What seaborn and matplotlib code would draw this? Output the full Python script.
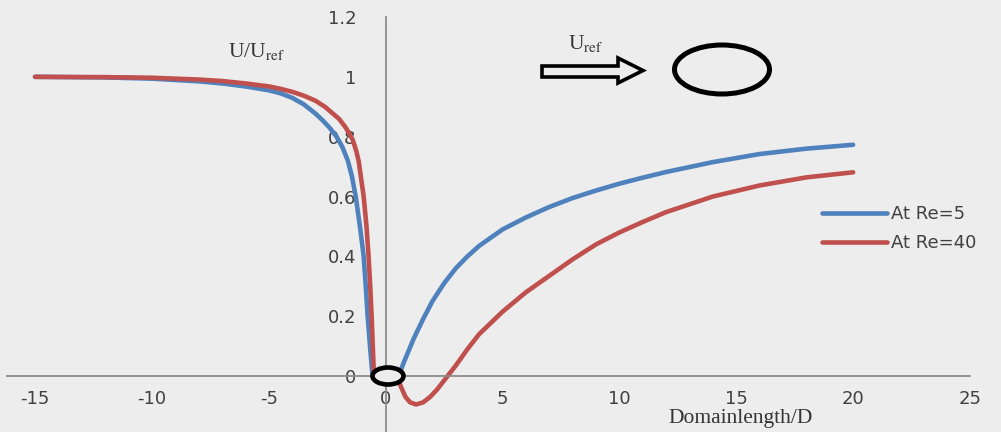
import numpy as np
import pandas as pd
import matplotlib
matplotlib.use("Agg")
import matplotlib.pyplot as plt
from matplotlib.patches import Ellipse, Polygon
import seaborn as sns

# ---- data ----
series_names = ["At Re=5", "At Re=40"]

re5_up_x = [-15, -12, -10, -8, -7, -6, -5, -4.5, -4, -3.5, -3, -2.7, -2.4, -2.1, -1.85, -1.62, -1.45, -1.28, -1.1, -0.94, -0.85, -0.77, -0.66, -0.56]
re5_up_y = [1.0, 0.998, 0.994, 0.985, 0.978, 0.968, 0.955, 0.945, 0.93, 0.908, 0.877, 0.855, 0.83, 0.8, 0.765, 0.72, 0.67, 0.6, 0.5, 0.4, 0.3, 0.2, 0.09, 0.0]
re5_dn_x = [0.55, 0.8, 1.2, 1.6, 2.0, 2.5, 3.0, 3.5, 4.0, 5.0, 6.0, 7.0, 8.0, 9.0, 10.0, 11.0, 12.0, 14.0, 16.0, 18.0, 20.0]
re5_dn_y = [0.0, 0.05, 0.125, 0.19, 0.25, 0.31, 0.36, 0.4, 0.435, 0.49, 0.53, 0.565, 0.595, 0.62, 0.643, 0.663, 0.682, 0.715, 0.742, 0.76, 0.773]

re40_up_x = [-15, -12, -10, -8, -7, -6, -5, -4.5, -4, -3.5, -3, -2.6, -2.3, -2.0, -1.75, -1.55, -1.41, -1.25, -1.15, -1.05, -0.94, -0.82, -0.73, -0.66, -0.6, -0.55, -0.5]
re40_up_y = [1.0, 0.999, 0.997, 0.991, 0.986, 0.978, 0.968, 0.96, 0.95, 0.937, 0.92, 0.9, 0.88, 0.86, 0.835, 0.81, 0.79, 0.75, 0.717, 0.66, 0.6, 0.5, 0.4, 0.3, 0.2, 0.1, 0.0]
re40_dn_x = [0.5, 0.65, 0.85, 1.05, 1.3, 1.6, 1.9, 2.2, 2.6, 3.0, 3.5, 4.0, 5.0, 6.0, 7.0, 8.0, 9.0, 10.0, 11.0, 12.0, 14.0, 16.0, 18.0, 20.0]
re40_dn_y = [0.0, -0.035, -0.07, -0.088, -0.095, -0.088, -0.07, -0.045, -0.005, 0.035, 0.09, 0.14, 0.215, 0.28, 0.335, 0.39, 0.44, 0.48, 0.515, 0.548, 0.6, 0.637, 0.664, 0.681]

x_ticks = [-15, -10, -5, 0, 5, 10, 15, 20, 25]
y_ticks = [0, 0.2, 0.4, 0.6, 0.8, 1.0, 1.2]
y_tick_labels = ["0", "0.2", "0.4", "0.6", "0.8", "1", "1.2"]
x_label = "Domainlength/D"
y_label = r"U/U$_{\mathrm{ref}}$"
uref_label = r"U$_{\mathrm{ref}}$"

colors = {"At Re=5": "#4F81BD", "At Re=40": "#C0504D"}

# ---- build table ----
frames = []
for name, seg, xs, ys in [
    ("At Re=5", "up", re5_up_x, re5_up_y),
    ("At Re=5", "down", re5_dn_x, re5_dn_y),
    ("At Re=40", "up", re40_up_x, re40_up_y),
    ("At Re=40", "down", re40_dn_x, re40_dn_y),
]:
    frames.append(pd.DataFrame({"x": xs, "y": ys, "series": name, "segment": seg}))
df = pd.concat(frames, ignore_index=True)

sns.set_style("white")
plt.rcParams["mathtext.fontset"] = "stix"
BG = "#ededed"
W, H = 1001, 432
fig = plt.figure(figsize=(W / 100, H / 100), dpi=100, facecolor=BG)
ax = fig.add_axes([7 / W, 0, 963 / W, 415 / H])
ax.set_facecolor(BG)

sns.lineplot(data=df, x="x", y="y", hue="series", hue_order=series_names,
             units="segment", estimator=None, sort=False,
             palette=colors, linewidth=3.3, ax=ax, legend=True)

ax.set_xlim(-16.2, 25)
ax.set_ylim(-0.187, 1.2)

for s in ["top", "right"]:
    ax.spines[s].set_visible(False)
ax.spines["left"].set_position(("data", 0))
ax.spines["bottom"].set_position(("data", 0))
for s in ["left", "bottom"]:
    ax.spines[s].set_color("#8c8c8c")
    ax.spines[s].set_linewidth(1.3)

ax.set_xticks(x_ticks)
ax.set_xticklabels([str(v) for v in x_ticks])
ax.set_yticks(y_ticks)
ax.set_yticklabels(y_tick_labels)
ax.tick_params(axis="x", direction="out", length=5, width=1.2, color="#8c8c8c",
               labelsize=13, labelcolor="#404040", pad=5)
ax.tick_params(axis="y", direction="out", length=5, width=1.2, color="#8c8c8c",
               labelsize=13, labelcolor="#404040", pad=16)
ax.set_xlabel("")
ax.set_ylabel("")

leg = ax.legend(loc="upper left", bbox_to_anchor=(822 / W, 1 - 205 / H),
                bbox_transform=fig.transFigure, frameon=False, fontsize=13,
                handlelength=3.6, handletextpad=0.2, labelspacing=0.6,
                borderaxespad=0, borderpad=0)
for t in leg.get_texts():
    t.set_color("#404040")


def fx(px):
    return px / W


def fy(py):
    return 1 - py / H


serif = "Liberation Serif"
fig.text(fx(228), fy(52), y_label, family=serif, fontsize=15.5, color="#333333",
         ha="left", va="center")
fig.text(fx(741), fy(419), x_label, family=serif, fontsize=15.5, color="#333333",
         ha="center", va="center")
fig.text(fx(586), fy(44), uref_label, family=serif, fontsize=15.5, color="#333333",
         ha="center", va="center")

arrow_px = [(542, 66), (618, 66), (618, 58), (643, 70.5), (618, 83), (618, 77), (542, 77)]
arrow = Polygon([(fx(a), fy(b)) for a, b in arrow_px], closed=True,
                facecolor="none", edgecolor="black", linewidth=2.6,
                transform=fig.transFigure, joinstyle="miter")
fig.add_artist(arrow)

big = Ellipse((fx(722), fy(69.5)), 95 / W, 49 / H, facecolor="none",
              edgecolor="black", linewidth=3.6, transform=fig.transFigure)
fig.add_artist(big)

small = Ellipse((fx(388), fy(376)), 31 / W, 17 / H, facecolor=BG,
                edgecolor="black", linewidth=3.3, transform=fig.transFigure, zorder=5)
fig.add_artist(small)

fig.savefig("out.png", dpi=100, facecolor=BG)
